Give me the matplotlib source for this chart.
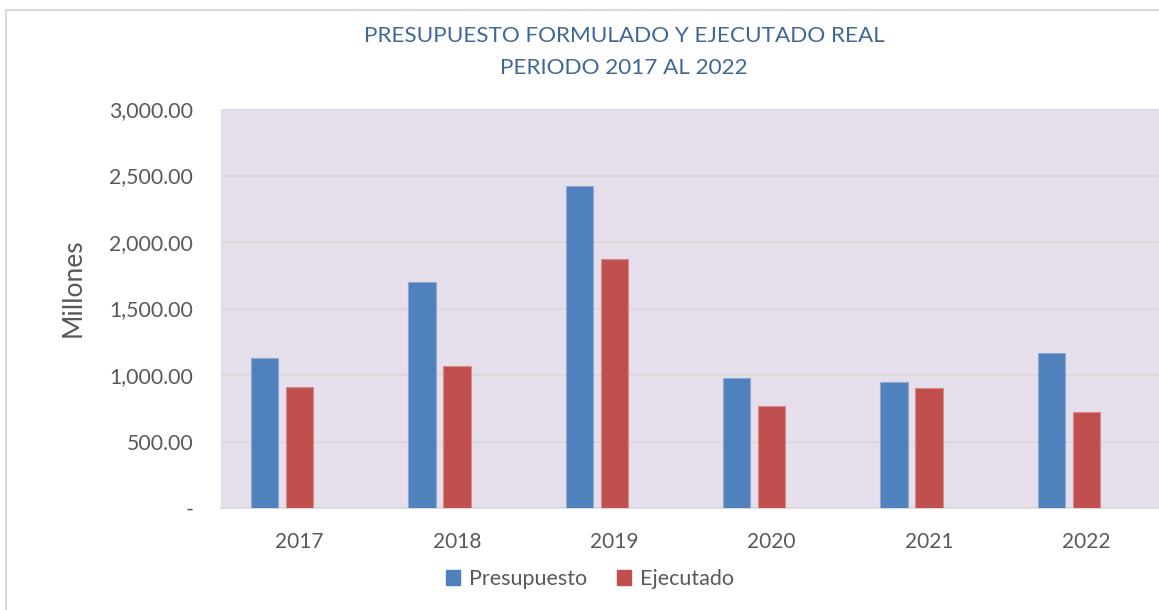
import numpy as np
import matplotlib
matplotlib.use('Agg')
import matplotlib.pyplot as plt
from matplotlib.patches import Rectangle, Patch
from matplotlib.ticker import FuncFormatter

# Data (millones)
years = ['2017', '2018', '2019', '2020', '2021', '2022']
presupuesto = [1130, 1702, 2423, 979, 947, 1165]
ejecutado = [911, 1067, 1875, 766, 899, 723]
y_ticks = [0, 500, 1000, 1500, 2000, 2500, 3000]

TITLE = 'PRESUPUESTO FORMULADO Y EJECUTADO REAL\nPERIODO 2017 AL 2022'

BLUE = '#4F81BD'
RED = '#C0504D'
GRAY_TXT = '#595959'
GRID = '#D9D9D9'
PLOT_BG = '#E5DFEC'
TITLE_COLOR = '#3F6899'

plt.rcParams['font.family'] = ['Lato', 'DejaVu Sans']

W, H = 1159, 610
fig = plt.figure(figsize=(W / 100, H / 100), dpi=100)

# plot area in pixel terms (runs a bit past the right edge, as in the original crop)
left, right, top, bottom = 221, 1165, 109, 508
ax = fig.add_axes([left / W, 1 - bottom / H, (right - left) / W, (bottom - top) / H])
ax.set_facecolor(PLOT_BG)

x = np.arange(len(years))
width = 0.174
# the original has a third (empty) series, so Ejecutado sits on the category centre
ax.bar(x - 0.222, presupuesto, width, color=BLUE, edgecolor='#8EA9D6', linewidth=0.8,
       label='Presupuesto', zorder=3)
ax.bar(x, ejecutado, width, color=RED, edgecolor='#D98885', linewidth=0.8,
       label='Ejecutado', zorder=3)

ax.set_xlim(-0.5, len(years) - 0.5)
ax.set_ylim(0, 3000)
ax.set_yticks(y_ticks)
ax.yaxis.set_major_formatter(FuncFormatter(lambda v, p: '-' if v == 0 else f'{v:,.2f}'))
ax.set_xticks(x)
ax.set_xticklabels(years)
ax.tick_params(axis='y', length=0, pad=20, labelsize=15.3, labelcolor=GRAY_TXT)
ax.tick_params(axis='x', length=0, pad=17, labelsize=15, labelcolor=GRAY_TXT)
ax.grid(axis='y', color=GRID, linewidth=1.3, zorder=0)
ax.set_axisbelow(True)
for s in ['left', 'right', 'top']:
    ax.spines[s].set_visible(False)
ax.spines['bottom'].set_color(GRID)
ax.spines['bottom'].set_linewidth(1.3)

fig.text(73 / W, 1 - 288 / H, 'Millones', rotation=90, ha='center', va='center',
         fontsize=19, color=GRAY_TXT)

fig.text(624 / W, 1 - 52 / H, TITLE, ha='center', va='center', fontsize=16.2,
         color=TITLE_COLOR, linespacing=1.75)

handles = [Patch(color=BLUE, label='Presupuesto'), Patch(color=RED, label='Ejecutado')]
fig.legend(handles=handles, loc='center', bbox_to_anchor=(590 / W, 1 - 579 / H), ncol=2,
           frameon=False, fontsize=15.5, labelcolor=GRAY_TXT, handlelength=0.65,
           handleheight=0.65, handletextpad=0.4, columnspacing=1.4)

# chart border (cut off on the right and bottom in the original)
fig.patches.append(Rectangle((6 / W, -0.1), 1.2, 1 - 10 / H + 0.1, transform=fig.transFigure,
                             fill=False, edgecolor=GRID, linewidth=1.5))

fig.savefig('out.png', dpi=100)
